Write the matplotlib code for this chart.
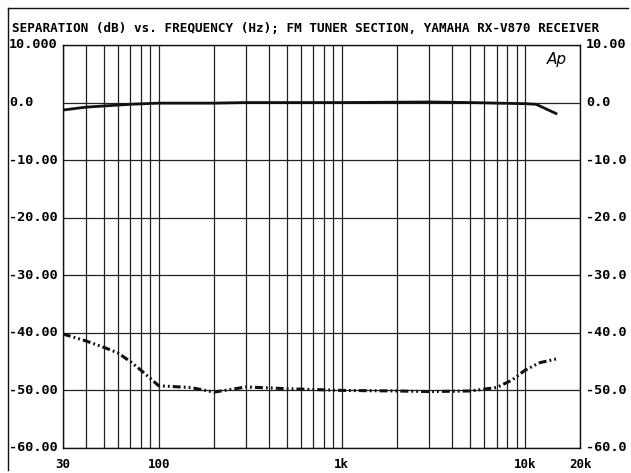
import numpy as np
import matplotlib.pyplot as plt
from matplotlib import transforms

# FM tuner stereo separation, Yamaha RX-V870
freq_main = [30, 40, 50, 70, 100, 200, 300, 1000, 3000, 5000, 10000, 11500, 15000]
level_main = [-1.3, -0.8, -0.6, -0.3, -0.1, -0.1, 0.0, 0.0, 0.1, 0.0, -0.2, -0.3, -2.0]

freq_sep = [30, 40, 50, 60, 70, 80, 100, 150, 200, 300, 500, 1000,
            2000, 3000, 5000, 7000, 8500, 10000, 12000, 15000]
sep_db = [-40.2, -41.4, -42.5, -43.5, -45.0, -46.5, -49.2, -49.5, -50.3, -49.4,
          -49.7, -50.0, -50.1, -50.2, -50.1, -49.5, -48.2, -46.5, -45.2, -44.5]

y_ticks = [10, 0, -10, -20, -30, -40, -50, -60]
left_labels = ["10.000", "0.0", "-10.00", "-20.00", "-30.00", "-40.00", "-50.00", "-60.00"]
right_labels = ["10.00", "0.0", "-10.0", "-20.0", "-30.0", "-40.0", "-50.0", "-60.0"]
x_ticks = [30, 100, 1000, 10000, 20000]
x_labels = ["30", "100", "1k", "10k", "20k"]

title = "SEPARATION (dB) vs. FREQUENCY (Hz); FM TUNER SECTION, YAMAHA RX-V870 RECEIVER"

font = {"family": "DejaVu Sans Mono", "weight": "bold"}

fig = plt.figure(figsize=(6.31, 4.73), dpi=100)
ax = fig.add_axes([0.0998, 0.0529, 0.8195, 0.8520])

ax.set_xscale("log")
ax.set_xlim(30, 20000)
ax.set_ylim(-60, 10)

# grid: every 1-9 multiple inside the range
minor = [m * 10 ** e for e in range(1, 5) for m in range(1, 10)]
minor = [f for f in minor if 30 <= f <= 20000]
ax.set_xticks(minor, minor=True)
ax.set_xticks(x_ticks)
ax.set_xticklabels(x_labels, fontdict=font, fontsize=9)
ax.set_yticks(y_ticks)
ax.set_yticklabels([])
ax.tick_params(which="both", length=0)
ax.tick_params(axis="x", pad=7)
ax.grid(which="both", color="#222222", linewidth=0.9)
for s in ax.spines.values():
    s.set_linewidth(1.0)
    s.set_color("#111111")

ax.plot(freq_main, level_main, color="#111111", linewidth=2.0, solid_capstyle="butt")
ax.plot(freq_sep, sep_db, color="#111111", linewidth=2.2,
        dashes=(2.6, 1.0, 0.6, 1.0, 0.6, 1.0))

# tick labels on both sides, left aligned
tr = transforms.blended_transform_factory(fig.transFigure, ax.transData)
for v, lt, rt in zip(y_ticks, left_labels, right_labels):
    fig.text(9 / 631, v, lt, transform=tr, ha="left", va="center", fontsize=9.7, **font)
    fig.text(586 / 631, v, rt, transform=tr, ha="left", va="center", fontsize=9.7, **font)

ax.text(0.975, 0.983, "Ap", transform=ax.transAxes, ha="right", va="top",
        fontsize=11, style="italic", family="DejaVu Sans")

fig.text(12 / 631, 1 - 28 / 473, title, ha="left", va="center", fontsize=9.1, **font)

# outer frame lines (top and left)
fig.add_artist(plt.Line2D([8 / 631, 628 / 631], [1 - 8 / 473, 1 - 8 / 473],
                          transform=fig.transFigure, color="#111111", linewidth=1.0))
fig.add_artist(plt.Line2D([8 / 631, 8 / 631], [1 - 8 / 473, 1 - 470 / 473],
                          transform=fig.transFigure, color="#111111", linewidth=1.0))

fig.savefig("out.png", dpi=100)
